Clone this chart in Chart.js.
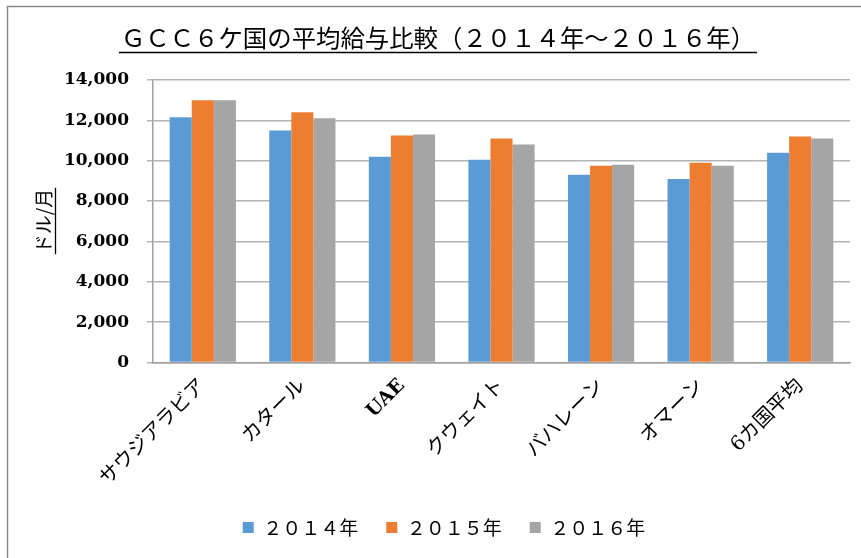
<!DOCTYPE html>
<html>
<head>
<meta charset="utf-8">
<script src="https://cdn.jsdelivr.net/npm/chart.js@4.4.1/dist/chart.umd.min.js"></script>
<style>
  html, body { margin: 0; padding: 0; background: #fff; }
  #wrap { width: 861px; height: 558px; }
</style>
</head>
<body>
<div id="wrap"><canvas id="myChart" width="861" height="558"></canvas></div>
<script>
'use strict';

// DATA
const countries = ['サウジアラビア', 'カタール', 'UAE', 'クウェイト', 'バハレーン', 'オマーン', '6カ国平均'];
const years = ['２０１４年', '２０１５年', '２０１６年'];
const salary2014 = [12150, 11500, 10200, 10050, 9300, 9100, 10400];
const salary2015 = [13000, 12400, 11250, 11100, 9750, 9900, 11200];
const salary2016 = [13000, 12100, 11300, 10800, 9800, 9750, 11100];
const colors = ['#5B9BD5', '#ED7D31', '#A5A5A5'];
const chartTitle = 'ＧＣＣ６ケ国の平均給与比較（２０１４年～２０１６年）';
const yTitle = 'ドル/月';

const jp = '"Noto Sans CJK JP", sans-serif';

// frame + title + y axis title, with underlines
const decorPlugin = {
  id: 'decor',
  beforeDraw: function(chart) {
    const c = chart.ctx;
    c.save();
    c.fillStyle = '#fff';
    c.fillRect(0, 0, chart.width, chart.height);
    c.strokeStyle = '#8a8a8a';
    c.lineWidth = 1.5;
    c.beginPath();
    c.moveTo(7.5, chart.height);
    c.lineTo(7.5, 6.5);
    c.lineTo(chart.width, 6.5);
    c.stroke();
    c.restore();
  },
  afterDraw: function(chart) {
    const c = chart.ctx;
    c.save();
    c.fillStyle = '#000';
    c.strokeStyle = '#000';
    c.lineWidth = 1.3;
    // title
    c.font = '24.4px ' + jp;
    c.textAlign = 'center';
    c.textBaseline = 'middle';
    c.fillText(chartTitle, 438, 38);
    let w = c.measureText(chartTitle).width;
    c.beginPath();
    c.moveTo(438 - w / 2 - 2, 52.5);
    c.lineTo(438 + w / 2 + 2, 52.5);
    c.stroke();
    // y title
    c.translate(44, 221);
    c.rotate(-Math.PI / 2);
    c.font = '19px ' + jp;
    c.fillText(yTitle, 0, 0);
    w = c.measureText(yTitle).width;
    c.beginPath();
    c.moveTo(-w / 2 - 1, 11.5);
    c.lineTo(w / 2 + 1, 11.5);
    c.stroke();
    c.restore();
  }
};

const ctx = document.getElementById('myChart').getContext('2d');

const chart = new Chart(ctx, {
  type: 'bar',
  data: {
    labels: countries,
    datasets: [
      { label: years[0], data: salary2014, backgroundColor: colors[0] },
      { label: years[1], data: salary2015, backgroundColor: colors[1] },
      { label: years[2], data: salary2016, backgroundColor: colors[2] }
    ]
  },
  options: {
    responsive: false,
    animation: false,
    devicePixelRatio: 1,
    layout: { padding: { top: 80, right: 11, bottom: 11, left: 38 } },
    datasets: {
      bar: { categoryPercentage: 0.665, barPercentage: 1.0 }
    },
    scales: {
      x: {
        afterFit: function(scale) { scale.height = 127.5; },
        grid: { display: false },
        border: { color: '#a0a0a0', width: 1.5 },
        ticks: {
          color: '#000',
          minRotation: 45,
          maxRotation: 45,
          padding: 4,
          font: function(c) {
            if (c.index === 2) return { family: '"DejaVu Serif", serif', size: 19, weight: 'bold' };
            return { family: '"DejaVu Serif", ' + jp, size: 20, weight: 'normal' };
          }
        }
      },
      y: {
        min: 0,
        max: 14000,
        afterFit: function(scale) { scale.width = 115; },
        border: { color: '#a0a0a0', width: 1.5 },
        grid: { color: '#b4b4b4', lineWidth: 1.5, tickLength: 6 },
        ticks: {
          stepSize: 2000,
          color: '#000',
          padding: 18,
          font: { family: '"DejaVu Serif", serif', size: 17, weight: 'bold' },
          callback: function(v) { return v.toLocaleString('en-US'); }
        }
      }
    },
    plugins: {
      title: { display: false },
      tooltip: { enabled: false },
      legend: {
        position: 'bottom',
        labels: {
          color: '#000',
          boxWidth: 11,
          boxHeight: 11,
          padding: 28,
          font: { family: jp, size: 19 }
        }
      }
    }
  },
  plugins: [decorPlugin]
});
</script>
</body>
</html>
